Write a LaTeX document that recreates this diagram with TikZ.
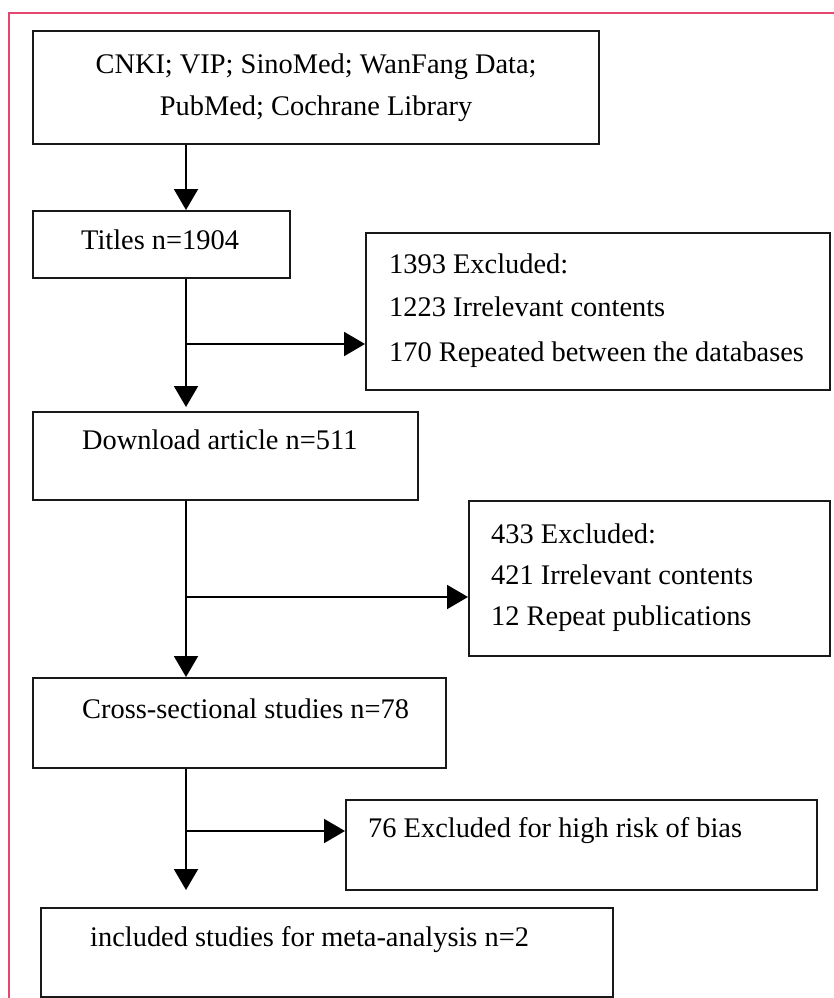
\documentclass[tikz,border=0pt]{standalone}
\usepackage{fontspec}
\setmainfont{Liberation Serif}
\usetikzlibrary{arrows.meta}
\definecolor{pinkb}{RGB}{228,72,112}
\begin{document}
\begin{tikzpicture}[x=1pt,y=-1pt,
  box/.style={draw=black!90, line width=2.2pt, anchor=north west, inner sep=0pt},
  txt/.style={anchor=mid west, inner sep=0pt, font=\fontsize{28.4}{42}\selectfont},
  arr/.style={line width=2pt, -{Triangle[length=21pt,width=24pt]}},
  ln/.style={line width=2pt}]
\useasboundingbox (0,0) rectangle (833,998);
\draw[pinkb, line width=1.8pt] (9,1010) -- (9,13) -- (845,13);

% boxes
\node[box, minimum width=566, minimum height=113, align=center,
      font=\fontsize{28.4}{42}\selectfont] (src) at (32,30)
  {CNKI; VIP; SinoMed; WanFang Data;\\PubMed; Cochrane Library};
\node[box, minimum width=257, minimum height=67] (titles) at (32,210) {};
\node[box, minimum width=464, minimum height=157] (ex1) at (365,232) {};
\node[box, minimum width=385, minimum height=88] (dl) at (32,411) {};
\node[box, minimum width=361, minimum height=155] (ex2) at (468,500) {};
\node[box, minimum width=413, minimum height=90] (cross) at (32,677) {};
\node[box, minimum width=471, minimum height=90] (ex3) at (345,799) {};
\node[box, minimum width=572, minimum height=89] (final) at (40,907) {};

% texts
\node[txt] (titlest) at (81,247) {Titles n=1904};
\node[txt] (ex1a) at (389,271) {1393 Excluded:};
\node[txt] (ex1b) at (389,314) {1223 Irrelevant contents};
\node[txt] (ex1c) at (389,359) {170 Repeated between the databases};
\node[txt] (dlt) at (82,447) {Download article n=511};
\node[txt] (ex2a) at (491,541) {433 Excluded:};
\node[txt] (ex2b) at (491,582) {421 Irrelevant contents};
\node[txt] (ex2c) at (491,623) {12 Repeat publications};
\node[txt] (crosst) at (82,716) {Cross-sectional studies n=78};
\node[txt] (ex3t) at (368,835) {76 Excluded for high risk of bias};
\node[txt] (finalt) at (90,944) {included studies for meta-analysis n=2};

% trunk and branch points
\coordinate (trunk) at (186,0);
\coordinate (b1) at (186,344);
\coordinate (b2) at (186,597);
\coordinate (b3) at (186,831);
\coordinate (e1) at (186,407);
\coordinate (e4) at (186,890);

% connectors
\draw[arr] (src.south -| trunk) -- (titles.north -| trunk);
\draw[arr] (titles.south -| trunk) -- (e1);
\draw[arr] (b1) -- (b1 -| ex1.west);
\draw[arr] (dl.south -| trunk) -- (cross.north -| trunk);
\draw[arr] (b2) -- (b2 -| ex2.west);
\draw[arr] (cross.south -| trunk) -- (e4);
\draw[arr] (b3) -- (b3 -| ex3.west);
\end{tikzpicture}
\end{document}
